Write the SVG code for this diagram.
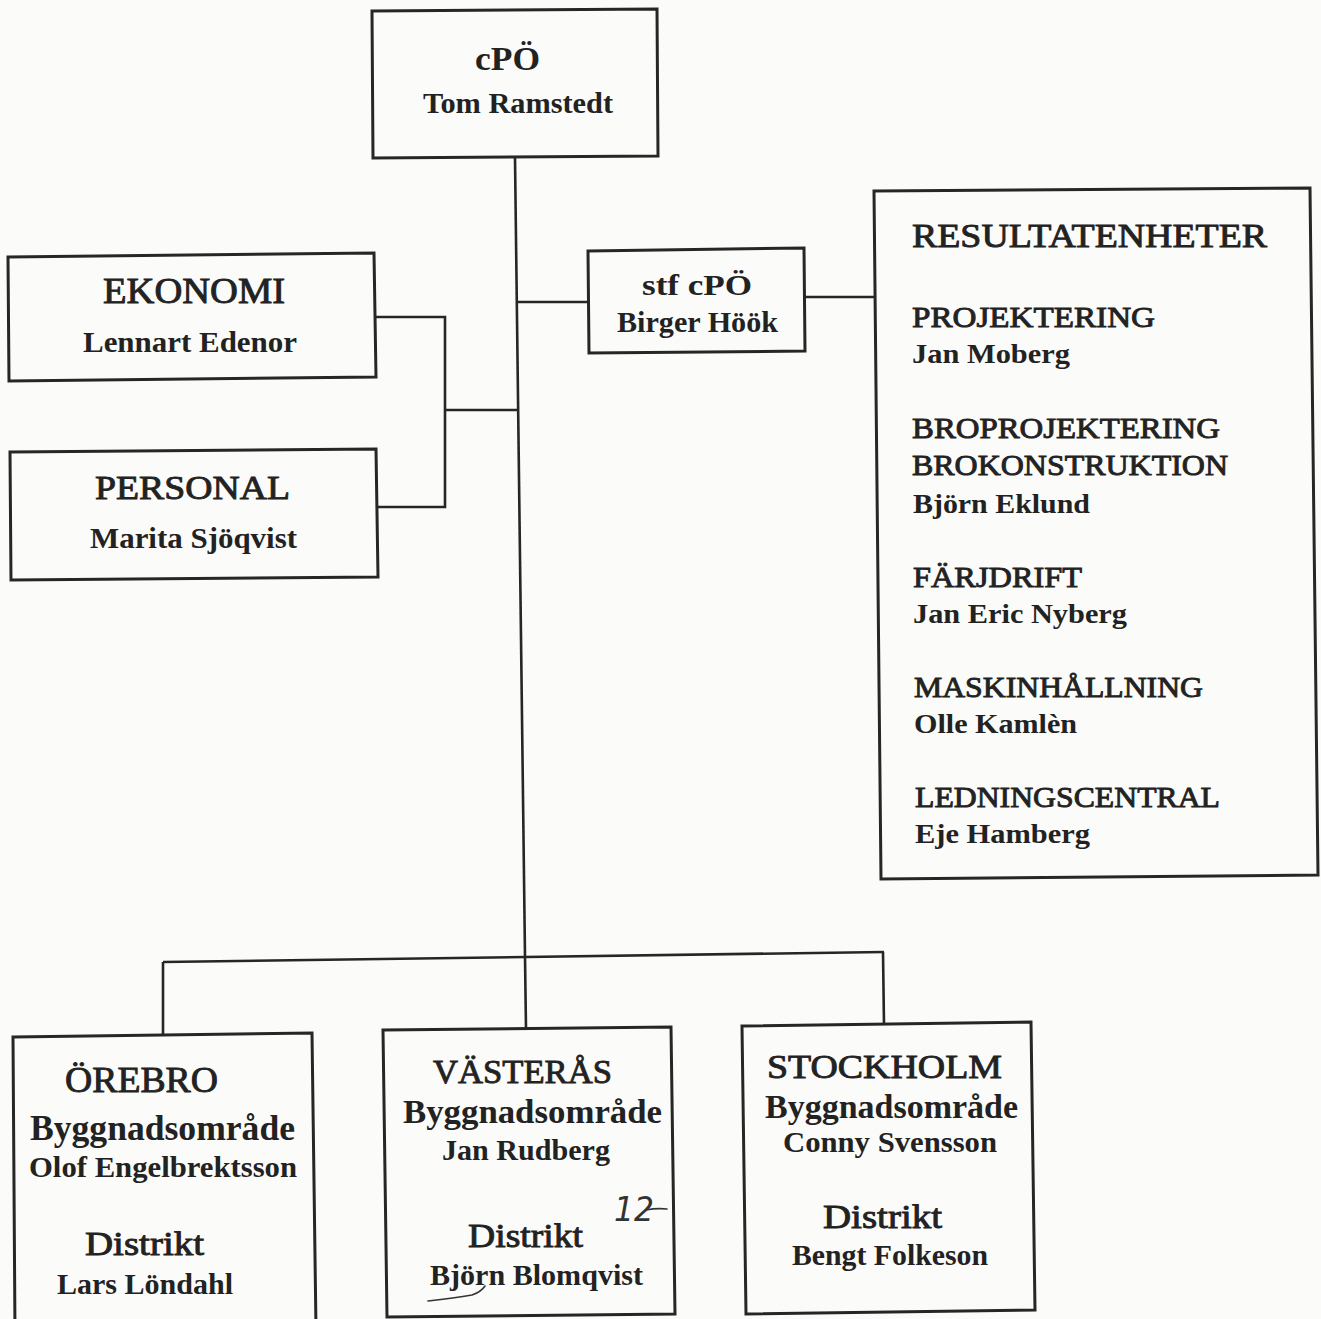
<svg xmlns="http://www.w3.org/2000/svg" width="1321" height="1319" viewBox="0 0 1321 1319">
  <style>
    .box { fill: none; stroke: #262626; stroke-width: 3; stroke-linejoin: miter; }
    .wire { fill: none; stroke: #262626; stroke-width: 2.6; }
    text { font-family: "Liberation Serif", "Times New Roman", serif; fill: #222; }
    .h { font-weight: normal; stroke: #222; stroke-width: 0.9; }
    .n { font-weight: bold; }
    .pen { font-family: "DejaVu Sans", sans-serif; font-weight: 200; font-style: italic; fill: #333; }
    .ink { fill: none; stroke: #333; stroke-width: 1.6; stroke-linecap: round; }
  </style>
  <rect width="1321" height="1319" fill="#fbfbf9"/>

  <!-- connectors -->
  <g id="connectors">
    <line class="wire" x1="515" y1="158" x2="525" y2="957"/>
    <polyline class="wire" points="375,317 445,317 445,507 377,507"/>
    <line class="wire" x1="445" y1="410" x2="518" y2="410"/>
    <line class="wire" x1="517" y1="302" x2="588" y2="302"/>
    <line class="wire" x1="805" y1="297" x2="874" y2="297"/>
    <line class="wire" x1="163" y1="962" x2="884" y2="952"/>
    <line class="wire" x1="163" y1="962" x2="163" y2="1036"/>
    <line class="wire" x1="525" y1="957" x2="526" y2="1029"/>
    <line class="wire" x1="883" y1="952" x2="884" y2="1025"/>
  </g>

  <!-- head -->
  <g id="cpo">
    <polygon class="box" points="372,11 657,9 658,156 373,158"/>
    <text class="n" x="475" y="70" font-size="33" textLength="65" lengthAdjust="spacingAndGlyphs">cPÖ</text>
    <text class="n" x="423" y="113" font-size="30" textLength="190" lengthAdjust="spacingAndGlyphs">Tom Ramstedt</text>
  </g>

  <!-- staff units -->
  <g id="ekonomi">
    <polygon class="box" points="8,257 374,253 376,377 9,381"/>
    <text class="h" x="103" y="303" font-size="35" textLength="182" lengthAdjust="spacingAndGlyphs">EKONOMI</text>
    <text class="n" x="83" y="352" font-size="30" textLength="214" lengthAdjust="spacingAndGlyphs">Lennart Edenor</text>
  </g>
  <g id="personal">
    <polygon class="box" points="10,452 376,449 378,577 11,580"/>
    <text class="h" x="95" y="499" font-size="34" textLength="195" lengthAdjust="spacingAndGlyphs">PERSONAL</text>
    <text class="n" x="90" y="548" font-size="30" textLength="207" lengthAdjust="spacingAndGlyphs">Marita Sjöqvist</text>
  </g>
  <g id="stf-cpo">
    <polygon class="box" points="588,251 804,248 805,351 589,353"/>
    <text class="n" x="642" y="295" font-size="30" textLength="110" lengthAdjust="spacingAndGlyphs">stf cPÖ</text>
    <text class="n" x="617" y="332" font-size="29" textLength="161" lengthAdjust="spacingAndGlyphs">Birger Höök</text>
  </g>

  <!-- profit units -->
  <g id="resultatenheter">
    <polygon class="box" points="874,191 1310,188 1318,875 881,879"/>
    <text class="h" x="912" y="247" font-size="34" textLength="355" lengthAdjust="spacingAndGlyphs">RESULTATENHETER</text>
    <text class="h" x="912" y="327" font-size="30" textLength="243" lengthAdjust="spacingAndGlyphs">PROJEKTERING</text>
    <text class="n" x="912" y="363" font-size="28" textLength="158" lengthAdjust="spacingAndGlyphs">Jan Moberg</text>
    <text class="h" x="912" y="438" font-size="30" textLength="308" lengthAdjust="spacingAndGlyphs">BROPROJEKTERING</text>
    <text class="h" x="912" y="475" font-size="30" textLength="316" lengthAdjust="spacingAndGlyphs">BROKONSTRUKTION</text>
    <text class="n" x="913" y="513" font-size="28" textLength="177" lengthAdjust="spacingAndGlyphs">Björn Eklund</text>
    <text class="h" x="913" y="587" font-size="30" textLength="169" lengthAdjust="spacingAndGlyphs">FÄRJDRIFT</text>
    <text class="n" x="913" y="623" font-size="28" textLength="214" lengthAdjust="spacingAndGlyphs">Jan Eric Nyberg</text>
    <text class="h" x="914" y="697" font-size="30" textLength="289" lengthAdjust="spacingAndGlyphs">MASKINHÅLLNING</text>
    <text class="n" x="914" y="733" font-size="28" textLength="163" lengthAdjust="spacingAndGlyphs">Olle Kamlèn</text>
    <text class="h" x="915" y="807" font-size="30" textLength="305" lengthAdjust="spacingAndGlyphs">LEDNINGSCENTRAL</text>
    <text class="n" x="915" y="843" font-size="28" textLength="175" lengthAdjust="spacingAndGlyphs">Eje Hamberg</text>
  </g>

  <!-- regional units -->
  <g id="orebro">
    <polygon class="box" points="13,1037 312,1033 316,1330 15,1334"/>
    <text class="h" x="65" y="1092" font-size="36" textLength="153" lengthAdjust="spacingAndGlyphs">ÖREBRO</text>
    <text class="n" x="30" y="1140" font-size="35" textLength="265" lengthAdjust="spacingAndGlyphs">Byggnadsområde</text>
    <text class="n" x="29" y="1177" font-size="30" textLength="268" lengthAdjust="spacingAndGlyphs">Olof Engelbrektsson</text>
    <text class="h" x="85" y="1255" font-size="34" textLength="119" lengthAdjust="spacingAndGlyphs">Distrikt</text>
    <text class="n" x="57" y="1294" font-size="30" textLength="176" lengthAdjust="spacingAndGlyphs">Lars Löndahl</text>
  </g>
  <g id="vasteras">
    <polygon class="box" points="383,1030 671,1027 675,1314 387,1317"/>
    <text class="h" x="433" y="1083" font-size="34" textLength="179" lengthAdjust="spacingAndGlyphs">VÄSTERÅS</text>
    <text class="n" x="403" y="1123" font-size="34" textLength="259" lengthAdjust="spacingAndGlyphs">Byggnadsområde</text>
    <text class="n" x="442" y="1160" font-size="30" textLength="168" lengthAdjust="spacingAndGlyphs">Jan Rudberg</text>
    <text class="h" x="468" y="1247" font-size="34" textLength="115" lengthAdjust="spacingAndGlyphs">Distrikt</text>
    <text class="n" x="430" y="1285" font-size="30" textLength="213" lengthAdjust="spacingAndGlyphs">Björn Blomqvist</text>
    <!-- pen marks -->
    <text class="pen" x="614" y="1221" font-size="34" textLength="40" lengthAdjust="spacingAndGlyphs">12</text>
    <path class="ink" d="M646 1210 Q656 1208 667 1209"/>
    <path class="ink" d="M428 1301 Q455 1298 472 1295 Q481 1292 485 1286"/>
  </g>
  <g id="stockholm">
    <polygon class="box" points="742,1026 1031,1022 1035,1310 746,1314"/>
    <text class="h" x="767" y="1078" font-size="34" textLength="235" lengthAdjust="spacingAndGlyphs">STOCKHOLM</text>
    <text class="n" x="765" y="1118" font-size="34" textLength="253" lengthAdjust="spacingAndGlyphs">Byggnadsområde</text>
    <text class="n" x="783" y="1152" font-size="30" textLength="214" lengthAdjust="spacingAndGlyphs">Conny Svensson</text>
    <text class="h" x="823" y="1228" font-size="34" textLength="119" lengthAdjust="spacingAndGlyphs">Distrikt</text>
    <text class="n" x="792" y="1265" font-size="30" textLength="196" lengthAdjust="spacingAndGlyphs">Bengt Folkeson</text>
  </g>
</svg>
